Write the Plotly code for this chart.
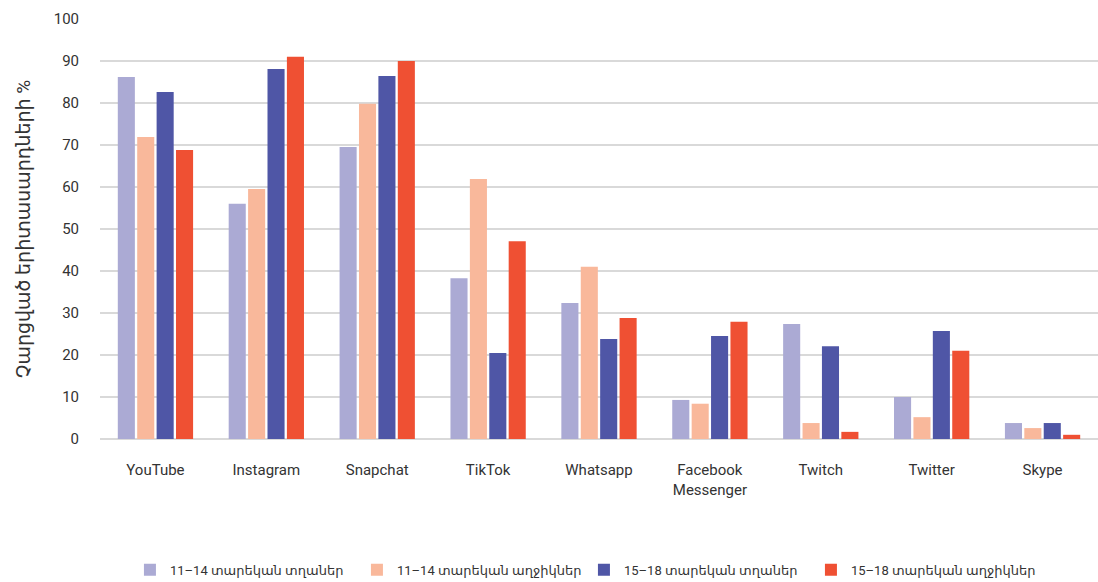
import plotly.graph_objects as go

categories = ["YouTube", "Instagram", "Snapchat", "TikTok", "Whatsapp",
              "Facebook<br>Messenger", "Twitch", "Twitter", "Skype"]
boys_11_14 = [86.2, 56.0, 69.5, 38.3, 32.4, 9.3, 27.4, 10.0, 3.8]
girls_11_14 = [71.9, 59.5, 79.8, 61.9, 41.0, 8.4, 3.8, 5.2, 2.6]
boys_15_18 = [82.6, 88.1, 86.4, 20.5, 23.8, 24.5, 22.1, 25.7, 3.8]
girls_15_18 = [68.8, 91.0, 90.0, 47.1, 28.8, 27.9, 1.7, 21.0, 1.0]
series_names = ["11–14 տարեկան տղաներ", "11–14 տարեկան աղջիկներ",
                "15–18 տարեկան տղաներ", "15–18 տարեկան աղջիկներ"]
colors = ["#abaad4", "#f9b89b", "#4f56a6", "#ef5033"]
y_title = "Չարցված երիտասարդների %"

FONT = "Roboto, DejaVu Sans, sans-serif"

fig = go.Figure()
for name, vals, col in zip(series_names, [boys_11_14, girls_11_14, boys_15_18, girls_15_18], colors):
    fig.add_trace(go.Bar(x=categories, y=vals, name=name, marker_color=col,
                         marker_line_width=0))

fig.update_layout(
    width=1098, height=582,
    margin=dict(l=100, r=0, t=19, b=143, autoexpand=False),
    paper_bgcolor="white", plot_bgcolor="white",
    barmode="group", bargap=0.3, bargroupgap=0.12,
    font=dict(family=FONT, size=15, color="#333333"),
    xaxis=dict(showgrid=False, showline=False, ticks="", ticklabelstandoff=20,
               tickfont=dict(size=15)),
    yaxis=dict(range=[0, 100], dtick=10, showgrid=True, gridcolor="#d9d9d9",
               gridwidth=2, zeroline=True, zerolinecolor="#d9d9d9", zerolinewidth=2,
               ticks="", ticklabelstandoff=20, tickfont=dict(size=15),
               title=dict(text=y_title, font=dict(size=19), standoff=18)),
    legend=dict(orientation="h", x=0.03, xanchor="left", y=0.021, yref="container",
                yanchor="middle", font=dict(size=13), itemwidth=30,
                entrywidth=182, entrywidthmode="pixels", traceorder="normal"),
    showlegend=True,
)

fig.write_html("out.html")
